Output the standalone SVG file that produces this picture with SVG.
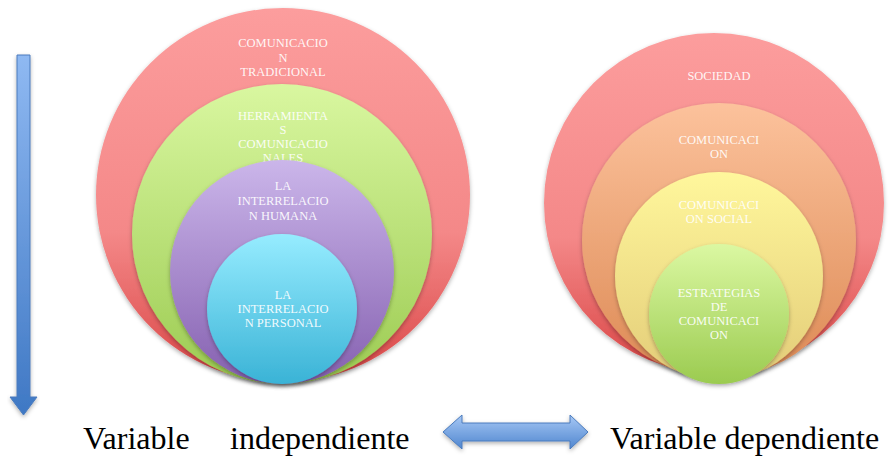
<svg xmlns="http://www.w3.org/2000/svg" width="895" height="459" viewBox="0 0 895 459">
<defs>
<linearGradient id="gRed" x1="0" y1="0" x2="0" y2="1"><stop offset="0" stop-color="#fc9d9d"/><stop offset="0.6" stop-color="#f48888"/><stop offset="1" stop-color="#d94545"/></linearGradient>
<linearGradient id="gGreen" x1="0" y1="0" x2="0" y2="1"><stop offset="0" stop-color="#d9f7a0"/><stop offset="1" stop-color="#9ccb52"/></linearGradient>
<linearGradient id="gPurple" x1="0" y1="0" x2="0" y2="1"><stop offset="0" stop-color="#cbb6ea"/><stop offset="1" stop-color="#8560b0"/></linearGradient>
<linearGradient id="gCyan" x1="0" y1="0" x2="0" y2="1"><stop offset="0" stop-color="#96ecff"/><stop offset="1" stop-color="#3ab3d6"/></linearGradient>
<linearGradient id="gOrange" x1="0" y1="0" x2="0" y2="1"><stop offset="0" stop-color="#fcc29c"/><stop offset="1" stop-color="#dd8a55"/></linearGradient>
<linearGradient id="gYellow" x1="0" y1="0" x2="0" y2="1"><stop offset="0" stop-color="#fff79c"/><stop offset="1" stop-color="#e3cc78"/></linearGradient>
<linearGradient id="gLime" x1="0" y1="0" x2="0" y2="1"><stop offset="0" stop-color="#dbf8a2"/><stop offset="1" stop-color="#9bcb50"/></linearGradient>
<linearGradient id="gArrowV" x1="0" y1="0" x2="0" y2="1"><stop offset="0" stop-color="#8fb9f2"/><stop offset="1" stop-color="#3f78c4"/></linearGradient>
<linearGradient id="gArrowH" x1="0" y1="0" x2="0" y2="1"><stop offset="0" stop-color="#a7c8f5"/><stop offset="1" stop-color="#4f86cf"/></linearGradient>
<filter id="sh" x="-10%" y="-10%" width="120%" height="125%"><feDropShadow dx="0" dy="2" stdDeviation="2" flood-color="#000" flood-opacity="0.3"/></filter>
<style>
.lbl{font-family:"Liberation Serif","Times New Roman",serif;font-size:12.5px;fill:#ffffff;fill-opacity:0.92;text-anchor:middle}
.cap{font-family:"Liberation Serif","Times New Roman",serif;font-size:32px;fill:#000000}
.arr{stroke:#4a7bbd;stroke-width:1;filter:url(#sh)}
</style>
</defs>

<g id="left-outer"><circle cx="283" cy="195" r="187" fill="url(#gRed)" filter="url(#sh)"/>
<text class="lbl" x="283" y="47">COMUNICACIO</text><text class="lbl" x="283" y="62">N</text><text class="lbl" x="283" y="76">TRADICIONAL</text></g>
<g id="left-green"><circle cx="282" cy="234" r="150" fill="url(#gGreen)" filter="url(#sh)"/>
<text class="lbl" x="283" y="120">HERRAMIENTA</text><text class="lbl" x="283" y="134">S</text><text class="lbl" x="283" y="148">COMUNICACIO</text><text class="lbl" x="283" y="162">NALES</text></g>
<g id="left-purple"><circle cx="282" cy="272" r="112" fill="url(#gPurple)" filter="url(#sh)"/>
<text class="lbl" x="283" y="190">LA</text><text class="lbl" x="283" y="205">INTERRELACIO</text><text class="lbl" x="283" y="220">N HUMANA</text></g>
<g id="left-cyan"><circle cx="282" cy="309" r="75" fill="url(#gCyan)" filter="url(#sh)"/>
<text class="lbl" x="283" y="299">LA</text><text class="lbl" x="283" y="313">INTERRELACIO</text><text class="lbl" x="283" y="327">N PERSONAL</text></g>

<g id="right-outer"><circle cx="714" cy="203" r="170" fill="url(#gRed)" filter="url(#sh)"/>
<text class="lbl" x="719" y="80">SOCIEDAD</text></g>
<g id="right-orange"><circle cx="719" cy="240" r="137" fill="url(#gOrange)" filter="url(#sh)"/>
<text class="lbl" x="719" y="144">COMUNICACI</text><text class="lbl" x="719" y="158">ON</text></g>
<g id="right-yellow"><circle cx="719" cy="276" r="104" fill="url(#gYellow)" filter="url(#sh)"/>
<text class="lbl" x="719" y="209">COMUNICACI</text><text class="lbl" x="719" y="223">ON SOCIAL</text></g>
<g id="right-lime"><circle cx="719" cy="314" r="70" fill="url(#gLime)" filter="url(#sh)"/>
<text class="lbl" x="719" y="297">ESTRATEGIAS</text><text class="lbl" x="719" y="311">DE</text><text class="lbl" x="719" y="325">COMUNICACI</text><text class="lbl" x="719" y="339">ON</text></g>

<g id="connectors">
<path class="arr" fill="url(#gArrowV)" d="M17,55 H30 V397 H37 L23.5,415 L10,397 H17 Z"/>
<path class="arr" fill="url(#gArrowH)" d="M443,432 L462,415 V423 H570 V415 L588,432 L570,449 V441 H462 V449 Z"/>
</g>

<g id="captions">
<text class="cap" x="83" y="449">Variable</text>
<text class="cap" x="230" y="449">independiente</text>
<text class="cap" x="610" y="449">Variable dependiente</text>
</g>
</svg>
